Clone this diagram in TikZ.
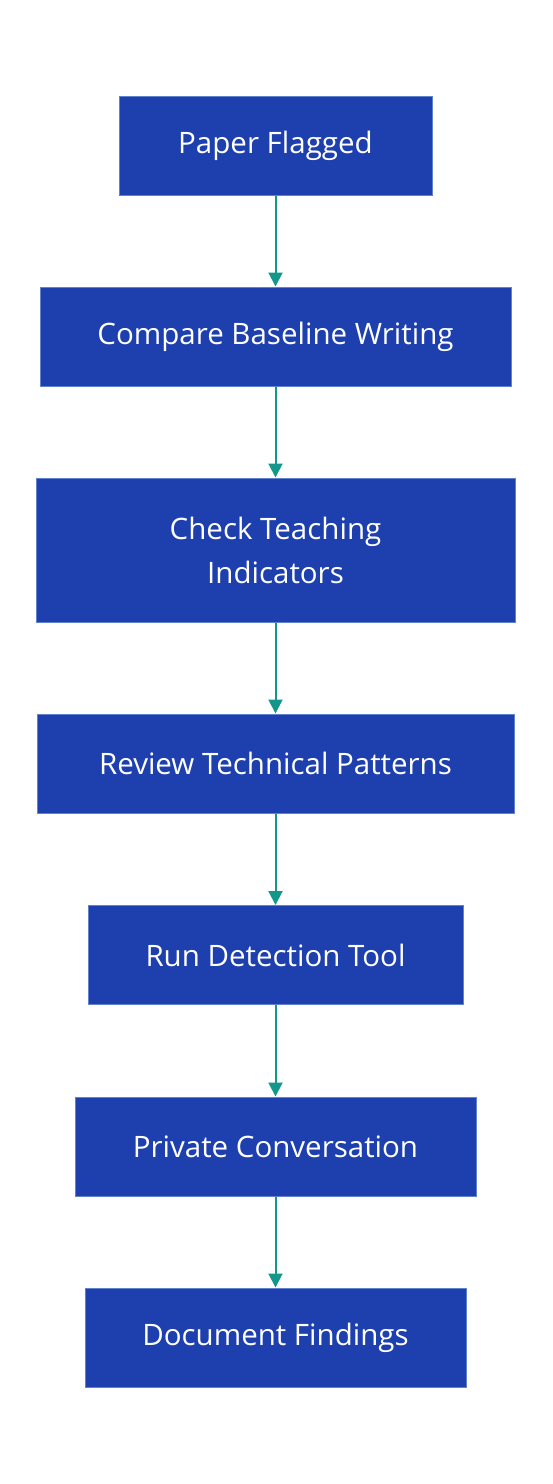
\documentclass[tikz,border=0pt]{standalone}
\usepackage{fontspec}
\setmainfont{Open Sans}
\usetikzlibrary{arrows.meta}
\definecolor{boxfill}{HTML}{1E40AF}
\definecolor{boxline}{HTML}{6080D0}
\definecolor{arrowc}{HTML}{13978A}
\tikzset{
  stepbox/.style={draw=boxline, line width=1pt, fill=boxfill, text=white, align=center,
    inner sep=0pt, font=\fontsize{29.5}{44}\selectfont},
  flow/.style={draw=arrowc, line width=2pt, -{Triangle[length=14pt,width=14pt]}}
}
\begin{document}
\begin{tikzpicture}[x=1pt,y=-1pt]
\useasboundingbox (0,0) rectangle (552,1484);
\node[stepbox, minimum width=313pt, minimum height=99pt] (a) at (275.5,145.5) {Paper Flagged};
\node[stepbox, minimum width=471pt, minimum height=99pt] (b) at (275.5,336.5) {Compare Baseline Writing};
\node[stepbox, minimum width=479pt, minimum height=144pt] (c) at (275.5,550) {Check Teaching\\Indicators};
\node[stepbox, minimum width=477pt, minimum height=99pt] (d) at (275.5,763.5) {Review Technical Patterns};
\node[stepbox, minimum width=375pt, minimum height=99pt] (e) at (275.5,955) {Run Detection Tool};
\node[stepbox, minimum width=401pt, minimum height=99pt] (f) at (275.5,1146.5) {Private Conversation};
\node[stepbox, minimum width=381pt, minimum height=99pt] (g) at (275.5,1337.5) {Document Findings};
\draw[flow] (a) -- (b);
\draw[flow] (b) -- (c);
\draw[flow] (c) -- (d);
\draw[flow] (d) -- (e);
\draw[flow] (e) -- (f);
\draw[flow] (f) -- (g);
\end{tikzpicture}
\end{document}
